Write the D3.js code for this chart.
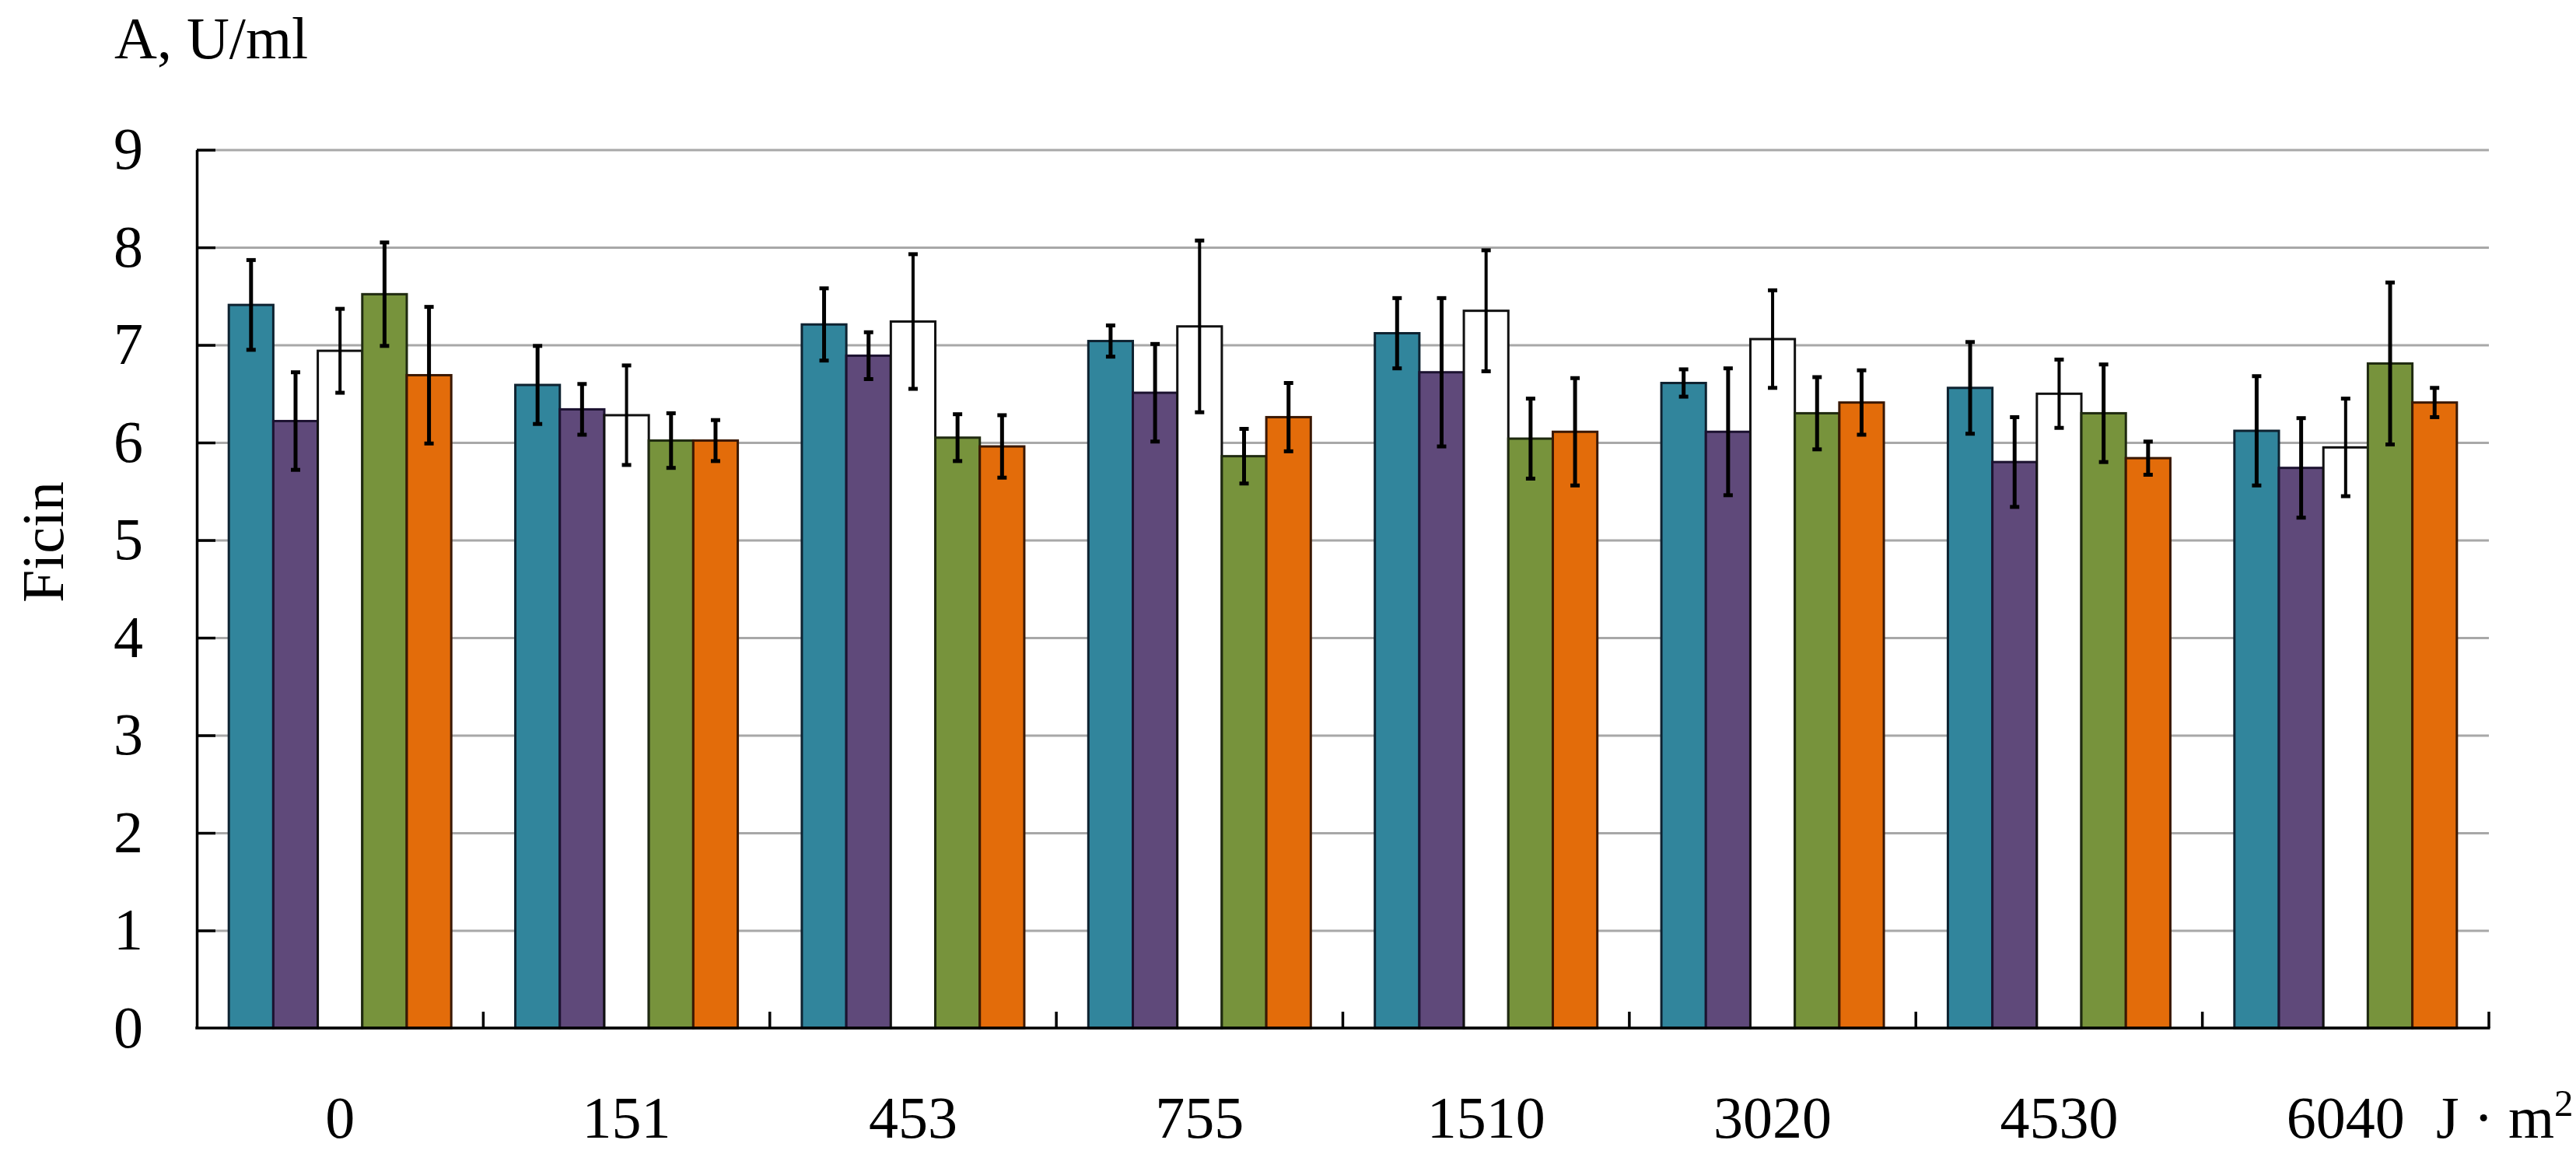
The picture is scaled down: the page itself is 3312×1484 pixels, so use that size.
<!DOCTYPE html>
<html>
<head>
<meta charset="utf-8">
<script src="https://cdn.jsdelivr.net/npm/d3@7"></script>
<style>
  body { margin: 0; background: #fff; }
  text { font-family: "Liberation Serif", "Times New Roman", serif; fill: #000; }
</style>
</head>
<body>
<script>

// data //
const doses = ['0', '151', '453', '755', '1510', '3020', '4530', '6040'];
const yTicks = [0, 1, 2, 3, 4, 5, 6, 7, 8, 9];

const teal   = [7.41, 6.59, 7.21, 7.04, 7.12, 6.61, 6.56, 6.12];
const purple = [6.22, 6.34, 6.89, 6.51, 6.72, 6.11, 5.80, 5.74];
const blank  = [6.94, 6.28, 7.24, 7.19, 7.35, 7.06, 6.50, 5.95];
const green  = [7.52, 6.02, 6.05, 5.86, 6.04, 6.30, 6.30, 6.81];
const orange = [6.69, 6.02, 5.96, 6.26, 6.11, 6.41, 5.84, 6.41];

const tealErr   = [0.46, 0.40, 0.37, 0.16, 0.36, 0.14, 0.47, 0.56];
const purpleErr = [0.50, 0.26, 0.24, 0.50, 0.76, 0.65, 0.46, 0.51];
const blankErr  = [0.43, 0.51, 0.69, 0.88, 0.62, 0.50, 0.35, 0.50];
const greenErr  = [0.53, 0.28, 0.24, 0.28, 0.41, 0.37, 0.50, 0.83];
const orangeErr = [0.70, 0.21, 0.32, 0.35, 0.55, 0.33, 0.17, 0.15];

const seriesValues = [teal, purple, blank, green, orange];
const seriesErrors = [tealErr, purpleErr, blankErr, greenErr, orangeErr];

const fills   = ['#31859c', '#5f497a', '#ffffff', '#77933c', '#e36c0a'];
const strokes = ['#0e2230', '#1c1230', '#111111', '#1f2a10', '#3a1804'];


// set margins //
const margin = { top: 192.6, right: 112, bottom: 162, left: 253 };
const width = 3312 - margin.left - margin.right;
const height = 1484 - margin.top - margin.bottom;

let svg = d3.select('body')
  .append('svg')
  .attr('width', 3312)
  .attr('height', 1484);

let g = svg.append('g')
  .attr('transform', 'translate(' + margin.left + ',' + margin.top + ')');

// scales //
let x0 = d3.scaleBand()
  .domain(doses)
  .range([0, width])
  .padding(0);

let x1 = d3.scaleBand()
  .domain(d3.range(seriesValues.length))
  .range([0, x0.bandwidth()])
  .paddingInner(0)
  .paddingOuter(0.72);

let y = d3.scaleLinear()
  .domain([0, 9])
  .range([height, 0]);

// grid lines //
let grid = g.append('g')
  .call(d3.axisLeft(y).tickValues(yTicks.slice(1)).tickSize(-width).tickFormat(''));
grid.select('.domain').remove();
grid.selectAll('line')
  .attr('stroke', '#a8a8a8')
  .attr('stroke-width', 3);

// bars //
let rows = [];
doses.forEach(function(d, i) {
  seriesValues.forEach(function(s, k) {
    rows.push({ dose: d, k: k, value: s[i], err: seriesErrors[k][i] });
  });
});

g.selectAll('.bar')
  .data(rows)
  .enter()
  .append('rect')
  .attr('class', 'bar')
  .attr('x', d => x0(d.dose) + x1(d.k))
  .attr('y', d => y(d.value))
  .attr('width', x1.bandwidth())
  .attr('height', d => y(0) - y(d.value))
  .attr('fill', d => fills[d.k])
  .attr('stroke', d => strokes[d.k])
  .attr('stroke-width', 3);

// error bars //
let eb = g.selectAll('.err')
  .data(rows)
  .enter()
  .append('g')
  .attr('class', 'err')
  .attr('stroke', '#000')
  .attr('stroke-width', d => d.k === 2 ? 4 : 5);

eb.append('line')
  .attr('x1', d => x0(d.dose) + x1(d.k) + x1.bandwidth() / 2)
  .attr('x2', d => x0(d.dose) + x1(d.k) + x1.bandwidth() / 2)
  .attr('y1', d => y(d.value + d.err))
  .attr('y2', d => y(d.value - d.err));

eb.selectAll('.cap')
  .data(d => [d.value + d.err, d.value - d.err].map(v => ({ d: d, v: v })))
  .enter()
  .append('line')
  .attr('class', 'cap')
  .attr('x1', c => x0(c.d.dose) + x1(c.d.k) + x1.bandwidth() / 2 - 6)
  .attr('x2', c => x0(c.d.dose) + x1(c.d.k) + x1.bandwidth() / 2 + 6)
  .attr('y1', c => y(c.v))
  .attr('y2', c => y(c.v))
  .attr('stroke-width', 5);

// y axis //
let yAxis = g.append('g')
  .call(d3.axisLeft(y).tickValues(yTicks).tickSizeInner(-24).tickSizeOuter(0).tickPadding(69));
yAxis.select('.domain').attr('stroke', '#000').attr('stroke-width', 3.5);
yAxis.selectAll('line').attr('stroke', '#000').attr('stroke-width', 3.5);
yAxis.selectAll('text')
  .attr('font-size', 76)
  .attr('font-family', '"Liberation Serif", "Times New Roman", serif');
yAxis.select('.tick:first-of-type line').remove();

// x axis //
let xAxis = g.append('g')
  .attr('transform', 'translate(0,' + height + ')')
  .call(d3.axisBottom(x0).tickSize(0).tickPadding(87));
xAxis.select('.domain').remove();
xAxis.selectAll('text')
  .attr('font-size', 76)
  .attr('font-family', '"Liberation Serif", "Times New Roman", serif');

g.append('line')
  .attr('x1', x0.range()[0] - 1.75)
  .attr('x2', x0.range()[1] + 1.5)
  .attr('y1', y(0))
  .attr('y2', y(0))
  .attr('stroke', '#000')
  .attr('stroke-width', 3.5);

g.selectAll('.xtick')
  .data(doses)
  .enter()
  .append('line')
  .attr('class', 'xtick')
  .attr('x1', d => x0(d) + x0.step())
  .attr('x2', d => x0(d) + x0.step())
  .attr('y1', y(0))
  .attr('y2', y(0) - 21)
  .attr('stroke', '#000')
  .attr('stroke-width', 3.5);

// labels //
svg.append('text')
  .attr('x', 147)
  .attr('y', 75)
  .attr('font-size', 76)
  .text('A, U/ml');

svg.append('text')
  .attr('transform', 'translate(81,697) rotate(-90)')
  .attr('text-anchor', 'middle')
  .attr('font-size', 76)
  .text('Ficin');

let unit = svg.append('text')
  .attr('x', 3132)
  .attr('y', 1463)
  .attr('font-size', 76)
  .text('J · m');
unit.append('tspan')
  .attr('font-size', 49)
  .attr('dy', -28)
  .text('2');

</script>
</body>
</html>
